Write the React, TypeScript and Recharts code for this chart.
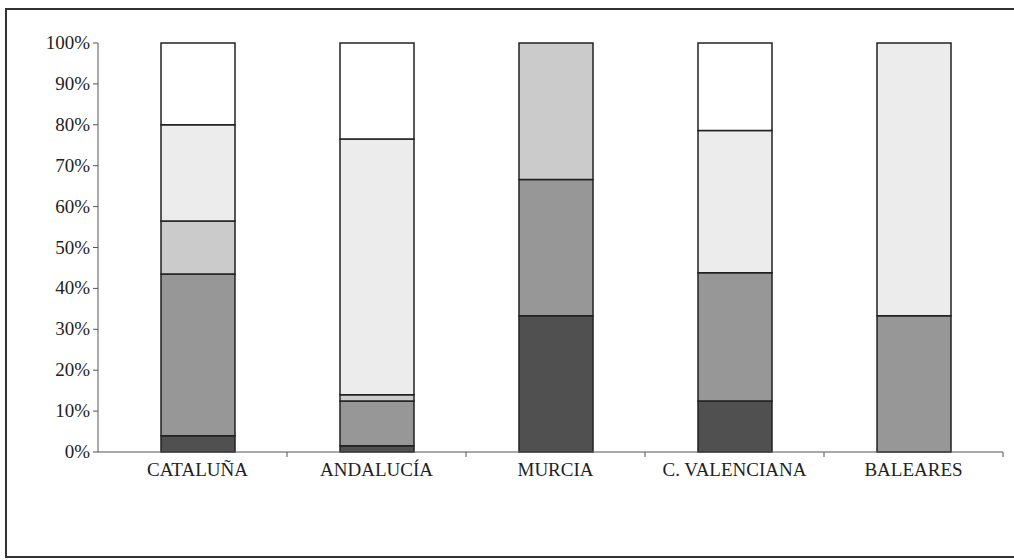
import React from "react";
import { BarChart, Bar, XAxis, YAxis } from "recharts";

const categories = ["CATALUÑA", "ANDALUCÍA", "MURCIA", "C. VALENCIANA", "BALEARES"];
const serie1 = [4, 1.5, 33.3, 12.5, 0];
const serie2 = [39.5, 11, 33.3, 31.3, 33.3];
const serie3 = [13, 1.5, 33.4, 0, 0];
const serie4 = [23.5, 62.5, 0, 34.8, 66.7];
const serie5 = [20, 23.5, 0, 21.4, 0];
const yTicks = [0, 10, 20, 30, 40, 50, 60, 70, 80, 90, 100];

const data = categories.map((c, i) => ({
  name: c,
  s1: serie1[i],
  s2: serie2[i],
  s3: serie3[i],
  s4: serie4[i],
  s5: serie5[i],
}));

const series = [
  { key: "s1", fill: "#505050" },
  { key: "s2", fill: "#979797" },
  { key: "s3", fill: "#cbcbcb" },
  { key: "s4", fill: "#ececec" },
  { key: "s5", fill: "#ffffff" },
];

const FONT = "Liberation Serif";
const PLOT_LEFT = 108;
const PLOT_RIGHT = 1003;
const BAND = (PLOT_RIGHT - PLOT_LEFT) / categories.length;

const XTick = (props: any) => {
  const { x, y, payload } = props;
  return (
    <g>
      <line x1={x + BAND / 2} x2={x + BAND / 2} y1={y - 8} y2={y - 3} stroke="#555" strokeWidth={1} />
      <text
        x={x}
        y={y + 16}
        textAnchor="middle"
        style={{ fontFamily: FONT, fontSize: 19 }}
        fill="#222"
      >
        {payload.value}
      </text>
    </g>
  );
};

const YTick = (props: any) => {
  const { x, y, payload } = props;
  return (
    <text
      x={x}
      y={y + 6}
      textAnchor="end"
      style={{ fontFamily: FONT, fontSize: 19 }}
      fill="#222"
    >
      {`${payload.value}%`}
    </text>
  );
};

export default function App() {
  return (
    <div style={{ position: "absolute", left: 0, top: 0, width: 1014, height: 560, background: "#fff", overflow: "hidden", fontFamily: FONT }}>
      <div
        style={{
          position: "absolute",
          left: 5,
          top: 8,
          width: 1030,
          height: 550,
          border: "2px solid #333",
          boxSizing: "border-box",
        }}
      />
      <div style={{ position: "absolute", left: 0, top: 0 }}>
        <BarChart
          width={1014}
          height={560}
          data={data}
          margin={{ top: 43, right: 11, bottom: 78, left: 0 }}
          barCategoryGap={0}
          barSize={74}
        >
          <YAxis
            width={98}
            domain={[0, 100]}
            ticks={yTicks}
            interval={0}
            tickSize={5}
            tickMargin={3}
            axisLine={{ stroke: "#555", strokeWidth: 1 }}
            tickLine={{ stroke: "#555", strokeWidth: 1 }}
            tick={<YTick />}
          />
          <XAxis
            dataKey="name"
            height={30}
            padding={{ left: 10, right: 0 }}
            interval={0}
            tickLine={false}
            axisLine={{ stroke: "#555", strokeWidth: 1 }}
            tick={<XTick />}
          />
          {series.map((s) => (
            <Bar
              key={s.key}
              dataKey={s.key}
              stackId="a"
              fill={s.fill}
              stroke="#222"
              strokeWidth={1.5}
              isAnimationActive={false}
            />
          ))}
        </BarChart>
      </div>
    </div>
  );
}
